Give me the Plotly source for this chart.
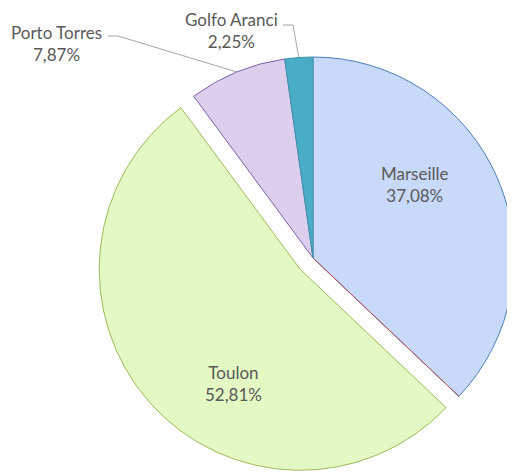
import math
import plotly.graph_objects as go

# ---- data ----
labels = ["Marseille", "Toulon", "Porto Torres", "Golfo Aranci"]
values = [37.08, 52.81, 7.87, 2.25]
fill_colors = ["#c8d9fa", "#e4f8c4", "#dccfee", "#4bacc6"]
line_colors = ["#4a7ebb", "#9bbb59", "#7f60a8", "#3e96ad"]
pulled = "Toulon"
pull_frac = 0.085

W, H = 515, 472          # window size
OFF = 8                  # default page body margin
FW, FH = W - OFF, H - OFF  # figure size
CX, CY, R = 313, 258, 201  # pie centre / radius in window pixels
TRANSPARENT = "rgba(0,0,0,0)"


def px(x):
    return (x - OFF) / FW


def py(y):
    return 1 - (y - OFF) / FH


def domain(cx, cy, r):
    return dict(x=[px(cx - r), px(cx + r)], y=[py(cy + r), py(cy - r)])


total = sum(values)
cum = [sum(values[:i]) for i in range(len(values))]


def mid_angle(i):
    return (cum[i] + values[i] / 2) / total * 2 * math.pi  # clockwise from 12 o'clock


def on_arc(cx, cy, ang, r):
    return cx + r * math.sin(ang), cy - r * math.cos(ang)


def fmt(v):
    return f"{v:.2f}%".replace(".", ",")


ip = labels.index(pulled)

colsA = [TRANSPARENT if l == pulled else c for l, c in zip(labels, fill_colors)]
lcolA = [TRANSPARENT if l == pulled else c for l, c in zip(labels, line_colors)]
lwA = [0 if l == pulled else 1 for l in labels]

colsB = [c if l == pulled else TRANSPARENT for l, c in zip(labels, fill_colors)]
lcolB = [c if l == pulled else TRANSPARENT for l, c in zip(labels, line_colors)]
lwB = [1 if l == pulled else 0 for l in labels]
ang_p = mid_angle(ip)
pcx, pcy = on_arc(CX, CY, ang_p, pull_frac * R)

common = dict(labels=labels, values=values, sort=False, direction="clockwise",
              rotation=0, textinfo="none", hoverinfo="label+percent",
              showlegend=False)

fig = go.Figure()
fig.add_trace(go.Pie(**common, domain=domain(CX, CY, R),
                     marker=dict(colors=colsA, line=dict(color=lcolA, width=lwA))))
fig.add_trace(go.Pie(**common, domain=domain(pcx, pcy, R),
                     marker=dict(colors=colsB, line=dict(color=lcolB, width=lwB))))

font = dict(family="Lato, 'Liberation Sans', sans-serif", size=17, color="#595959")
annotations = []
shapes = []

inside_pos = {"Marseille": (415, 184), "Toulon": (233, 383)}
for name, (x, y) in inside_pos.items():
    i = labels.index(name)
    annotations.append(dict(x=px(x), y=py(y), xref="paper", yref="paper",
                            xanchor="center", yanchor="middle",
                            text=f"{name}<br>{fmt(values[i])}", showarrow=False,
                            font=font, align="center"))

outside = {
    "Porto Torres": dict(text=(56, 43), start=(108, 36), elbow=(118, 36)),
    "Golfo Aranci": dict(text=(231, 31), start=(283, 25), elbow=(293, 25)),
}
for name, o in outside.items():
    i = labels.index(name)
    annotations.append(dict(x=px(o["text"][0]), y=py(o["text"][1]), xref="paper", yref="paper",
                            xanchor="center", yanchor="middle",
                            text=f"{name}<br>{fmt(values[i])}", showarrow=False,
                            font=font, align="center"))
    ex, ey = on_arc(CX, CY, mid_angle(i), R)
    pts = [o["start"], o["elbow"], (ex, ey)]
    path = "M " + " L ".join(f"{px(x)},{py(y)}" for x, y in pts)
    shapes.append(dict(type="path", xref="paper", yref="paper", path=path,
                       line=dict(color="#a6a6a6", width=1)))

end_m = (cum[0] + values[0]) / total * 2 * math.pi
mx, my = on_arc(CX, CY, end_m, R)
shapes.append(dict(type="line", xref="paper", yref="paper",
                   x0=px(CX), y0=py(CY), x1=px(mx), y1=py(my),
                   line=dict(color="#c0504d", width=1)))

fig.update_layout(width=FW, height=FH, margin=dict(l=0, r=0, t=0, b=0),
                  paper_bgcolor="white", plot_bgcolor="white",
                  annotations=annotations, shapes=shapes)

fig.write_html("out.html")
